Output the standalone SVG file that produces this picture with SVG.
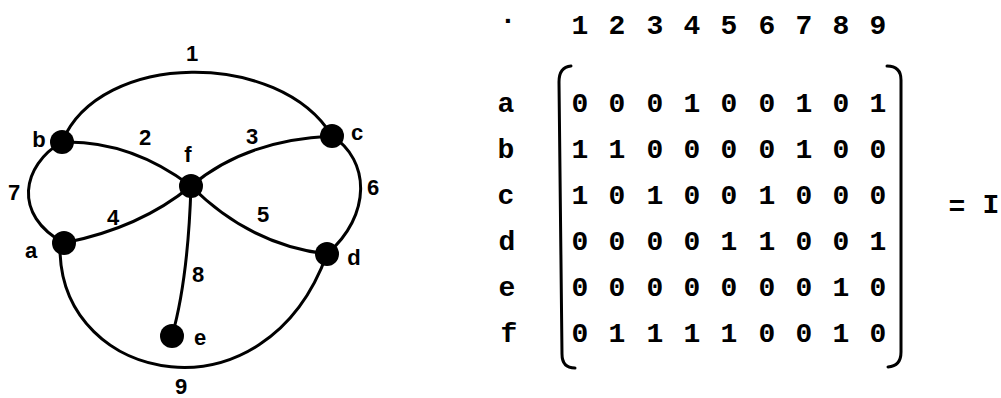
<svg xmlns="http://www.w3.org/2000/svg" width="1001" height="398" viewBox="0 0 1001 398">
  <style>
    .edge { fill: none; stroke: #000; stroke-width: 3; stroke-linecap: round; }
    .node { fill: #000; }
    .glabel { font-family: "Liberation Sans", Arial, sans-serif; font-size: 22px; font-weight: bold; fill: #000; text-anchor: middle; }
    .mono { font-family: "Liberation Mono", "Courier New", monospace; font-size: 28px; font-weight: bold; fill: #000; text-anchor: middle; }
    .bracket { fill: none; stroke: #000; stroke-width: 3; stroke-linecap: round; }
  </style>
  <rect width="1001" height="398" fill="#fff"/>

  <!-- graph: edges with their numbers -->
  <g id="connectors">
    <path id="edge-1" class="edge" d="M62,142 C100,50 280,50 332,136"/>
    <path id="edge-2" class="edge" d="M62,142 Q130,140 191,186"/>
    <path id="edge-3" class="edge" d="M191,186 Q245,140 332,136"/>
    <path id="edge-4" class="edge" d="M64,243 Q140,228 191,186"/>
    <path id="edge-5" class="edge" d="M191,186 Q250,245 327,254"/>
    <path id="edge-6" class="edge" d="M332,136 C370,160 372,215 327,254"/>
    <path id="edge-7" class="edge" d="M62,142 C22,165 12,215 64,243"/>
    <path id="edge-8" class="edge" d="M191,186 Q188,280 172,336"/>
    <path id="edge-9" class="edge" d="M60,250 C62,385 265,425 327,254"/>
    <text class="glabel" x="192" y="61">1</text>
    <text class="glabel" x="145" y="145">2</text>
    <text class="glabel" x="252" y="144">3</text>
    <text class="glabel" x="113" y="225">4</text>
    <text class="glabel" x="263" y="222">5</text>
    <text class="glabel" x="373" y="195">6</text>
    <text class="glabel" x="14" y="200">7</text>
    <text class="glabel" x="198" y="282">8</text>
    <text class="glabel" x="181" y="394">9</text>
  </g>

  <!-- graph: vertices -->
  <g id="node-a">
    <circle class="node" cx="64" cy="243" r="12"/>
    <text class="glabel" x="31" y="258">a</text>
  </g>
  <g id="node-b">
    <circle class="node" cx="62" cy="142" r="12"/>
    <text class="glabel" x="39" y="147">b</text>
  </g>
  <g id="node-c">
    <circle class="node" cx="332" cy="136" r="12"/>
    <text class="glabel" x="357" y="140">c</text>
  </g>
  <g id="node-d">
    <circle class="node" cx="327" cy="254" r="12"/>
    <text class="glabel" x="354" y="265">d</text>
  </g>
  <g id="node-e">
    <circle class="node" cx="172" cy="336" r="12"/>
    <text class="glabel" x="200" y="345">e</text>
  </g>
  <g id="node-f">
    <circle class="node" cx="191" cy="186" r="12"/>
    <text class="glabel" x="188" y="162">f</text>
  </g>

  <!-- incidence matrix -->
  <g id="matrix">
    <text class="mono" x="508" y="23">.</text>
    <g id="col-heads">
      <text class="mono" x="580" y="34">1</text>
      <text class="mono" x="617" y="34">2</text>
      <text class="mono" x="655" y="34">3</text>
      <text class="mono" x="692" y="34">4</text>
      <text class="mono" x="729" y="34">5</text>
      <text class="mono" x="767" y="34">6</text>
      <text class="mono" x="804" y="34">7</text>
      <text class="mono" x="841" y="34">8</text>
      <text class="mono" x="878" y="34">9</text>
    </g>
    <g id="row-heads">
      <text class="mono" x="506" y="112">a</text>
      <text class="mono" x="506" y="158">b</text>
      <text class="mono" x="506" y="204">c</text>
      <text class="mono" x="507" y="250">d</text>
      <text class="mono" x="507" y="296">e</text>
      <text class="mono" x="509" y="342">f</text>
    </g>
    <path class="bracket" d="M571,66 Q559,67 559,82 L562,354 Q562,368 575,368"/>
    <path class="bracket" d="M887,66 Q901,66 901,80 L901,352 Q901,366 888,367"/>
    <g id="entries">
      <text class="mono" x="580" y="112">0</text><text class="mono" x="617" y="112">0</text><text class="mono" x="655" y="112">0</text><text class="mono" x="692" y="112">1</text><text class="mono" x="729" y="112">0</text><text class="mono" x="767" y="112">0</text><text class="mono" x="804" y="112">1</text><text class="mono" x="841" y="112">0</text><text class="mono" x="878" y="112">1</text>
      <text class="mono" x="580" y="158">1</text><text class="mono" x="617" y="158">1</text><text class="mono" x="655" y="158">0</text><text class="mono" x="692" y="158">0</text><text class="mono" x="729" y="158">0</text><text class="mono" x="767" y="158">0</text><text class="mono" x="804" y="158">1</text><text class="mono" x="841" y="158">0</text><text class="mono" x="878" y="158">0</text>
      <text class="mono" x="580" y="204">1</text><text class="mono" x="617" y="204">0</text><text class="mono" x="655" y="204">1</text><text class="mono" x="692" y="204">0</text><text class="mono" x="729" y="204">0</text><text class="mono" x="767" y="204">1</text><text class="mono" x="804" y="204">0</text><text class="mono" x="841" y="204">0</text><text class="mono" x="878" y="204">0</text>
      <text class="mono" x="580" y="250">0</text><text class="mono" x="617" y="250">0</text><text class="mono" x="655" y="250">0</text><text class="mono" x="692" y="250">0</text><text class="mono" x="729" y="250">1</text><text class="mono" x="767" y="250">1</text><text class="mono" x="804" y="250">0</text><text class="mono" x="841" y="250">0</text><text class="mono" x="878" y="250">1</text>
      <text class="mono" x="580" y="296">0</text><text class="mono" x="617" y="296">0</text><text class="mono" x="655" y="296">0</text><text class="mono" x="692" y="296">0</text><text class="mono" x="729" y="296">0</text><text class="mono" x="767" y="296">0</text><text class="mono" x="804" y="296">0</text><text class="mono" x="841" y="296">1</text><text class="mono" x="878" y="296">0</text>
      <text class="mono" x="580" y="342">0</text><text class="mono" x="617" y="342">1</text><text class="mono" x="655" y="342">1</text><text class="mono" x="692" y="342">1</text><text class="mono" x="729" y="342">1</text><text class="mono" x="767" y="342">0</text><text class="mono" x="804" y="342">0</text><text class="mono" x="841" y="342">1</text><text class="mono" x="878" y="342">0</text>
    </g>
    <text class="mono" x="957" y="215">=</text>
    <text class="mono" x="991" y="213">I</text>
  </g>
</svg>
